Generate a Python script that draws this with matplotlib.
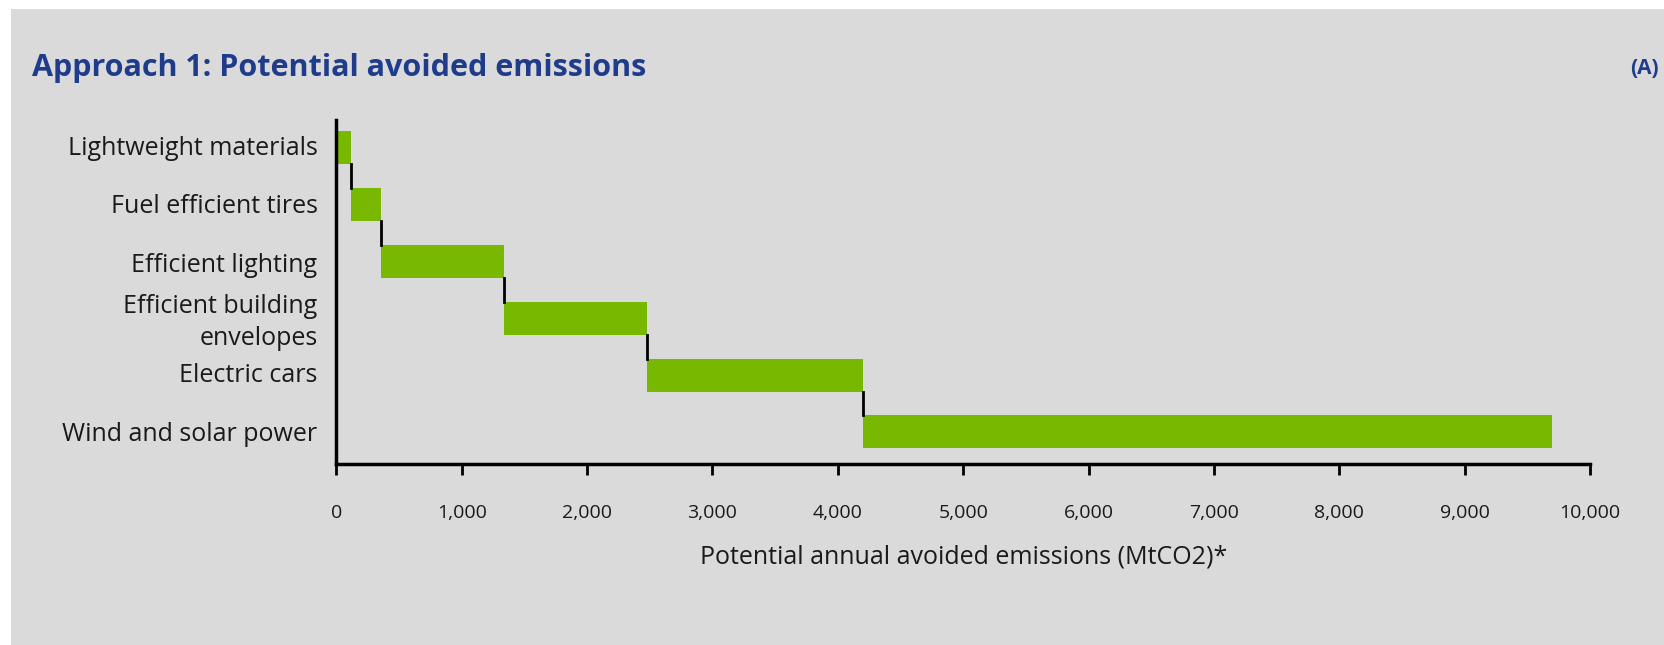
import matplotlib
matplotlib.use("Agg")
import matplotlib.pyplot as plt
from matplotlib.patches import Rectangle
from matplotlib.ticker import FuncFormatter

# cumulative abatement wedges, MtCO2
categories = ["Lightweight materials", "Fuel efficient tires", "Efficient lighting",
              "Efficient building\nenvelopes", "Electric cars", "Wind and solar power"]
starts = [0, 120, 360, 1340, 2480, 4200]
ends = [120, 360, 1340, 2480, 4200, 9700]
xticks = [0, 1000, 2000, 3000, 4000, 5000, 6000, 7000, 8000, 9000, 10000]

bg = "#dadada"
green = "#79b800"
navy = "#1f3c8c"
plt.rcParams['font.family'] = ['Open Sans', 'DejaVu Sans']

fig = plt.figure(figsize=(16.65, 6.45), dpi=100)
fig.patch.set_facecolor("white")
fig.add_artist(Rectangle((11 / 1665, 0), 1, 1 - 9 / 645, transform=fig.transFigure,
                         facecolor=bg, edgecolor="none", zorder=-5))

ax = fig.add_axes([0.202, 0.281, 0.753, 0.533])
ax.set_facecolor("none")
ax.set_zorder(2)

ypos = list(range(len(categories)))
widths = [e - s for s, e in zip(starts, ends)]
ax.barh(ypos, widths, left=starts, height=0.58, color=green, zorder=2)

# connectors between consecutive wedges
for i in range(len(categories) - 1):
    ax.plot([ends[i], ends[i]], [i + 0.29, i + 1 - 0.29], color="black", lw=2, zorder=3)

ax.set_xlim(0, 10000)
ax.set_ylim(5.56, -0.49)
ax.set_xticks(xticks)
ax.xaxis.set_major_formatter(FuncFormatter(lambda v, p: f"{int(v):,}"))
ax.tick_params(axis="x", length=8, width=2, pad=21, labelsize=14, color="black",
               labelcolor="#1a1a1a")
ax.set_yticks([])

# baseline offsets; the two-line label hangs lower than its bar in the original
label_off = [0.12, 0.14, 0.18, 0.47, 0.12, 0.16]
for i, lab in enumerate(categories):
    ax.text(-150, i + label_off[i], lab, ha="right", va="baseline", fontsize=18,
            linespacing=1.35, color="#1a1a1a")

for s in ["top", "right"]:
    ax.spines[s].set_visible(False)
ax.spines["left"].set_linewidth(2.5)
ax.spines["bottom"].set_linewidth(2.5)

ax.set_xlabel("Potential annual avoided emissions (MtCO2)*", fontsize=18, labelpad=16,
              color="#1a1a1a")

fig.text(32 / 1665, 1 - 68 / 645, "Approach 1: Potential avoided emissions", fontsize=22,
         fontweight="bold", color=navy, va="center", ha="left")
fig.text(1659 / 1665, 1 - 68 / 645, "(A)", fontsize=15, fontweight="bold", color=navy,
         va="center", ha="right")

fig.savefig("out.png", dpi=100, facecolor=fig.get_facecolor())
